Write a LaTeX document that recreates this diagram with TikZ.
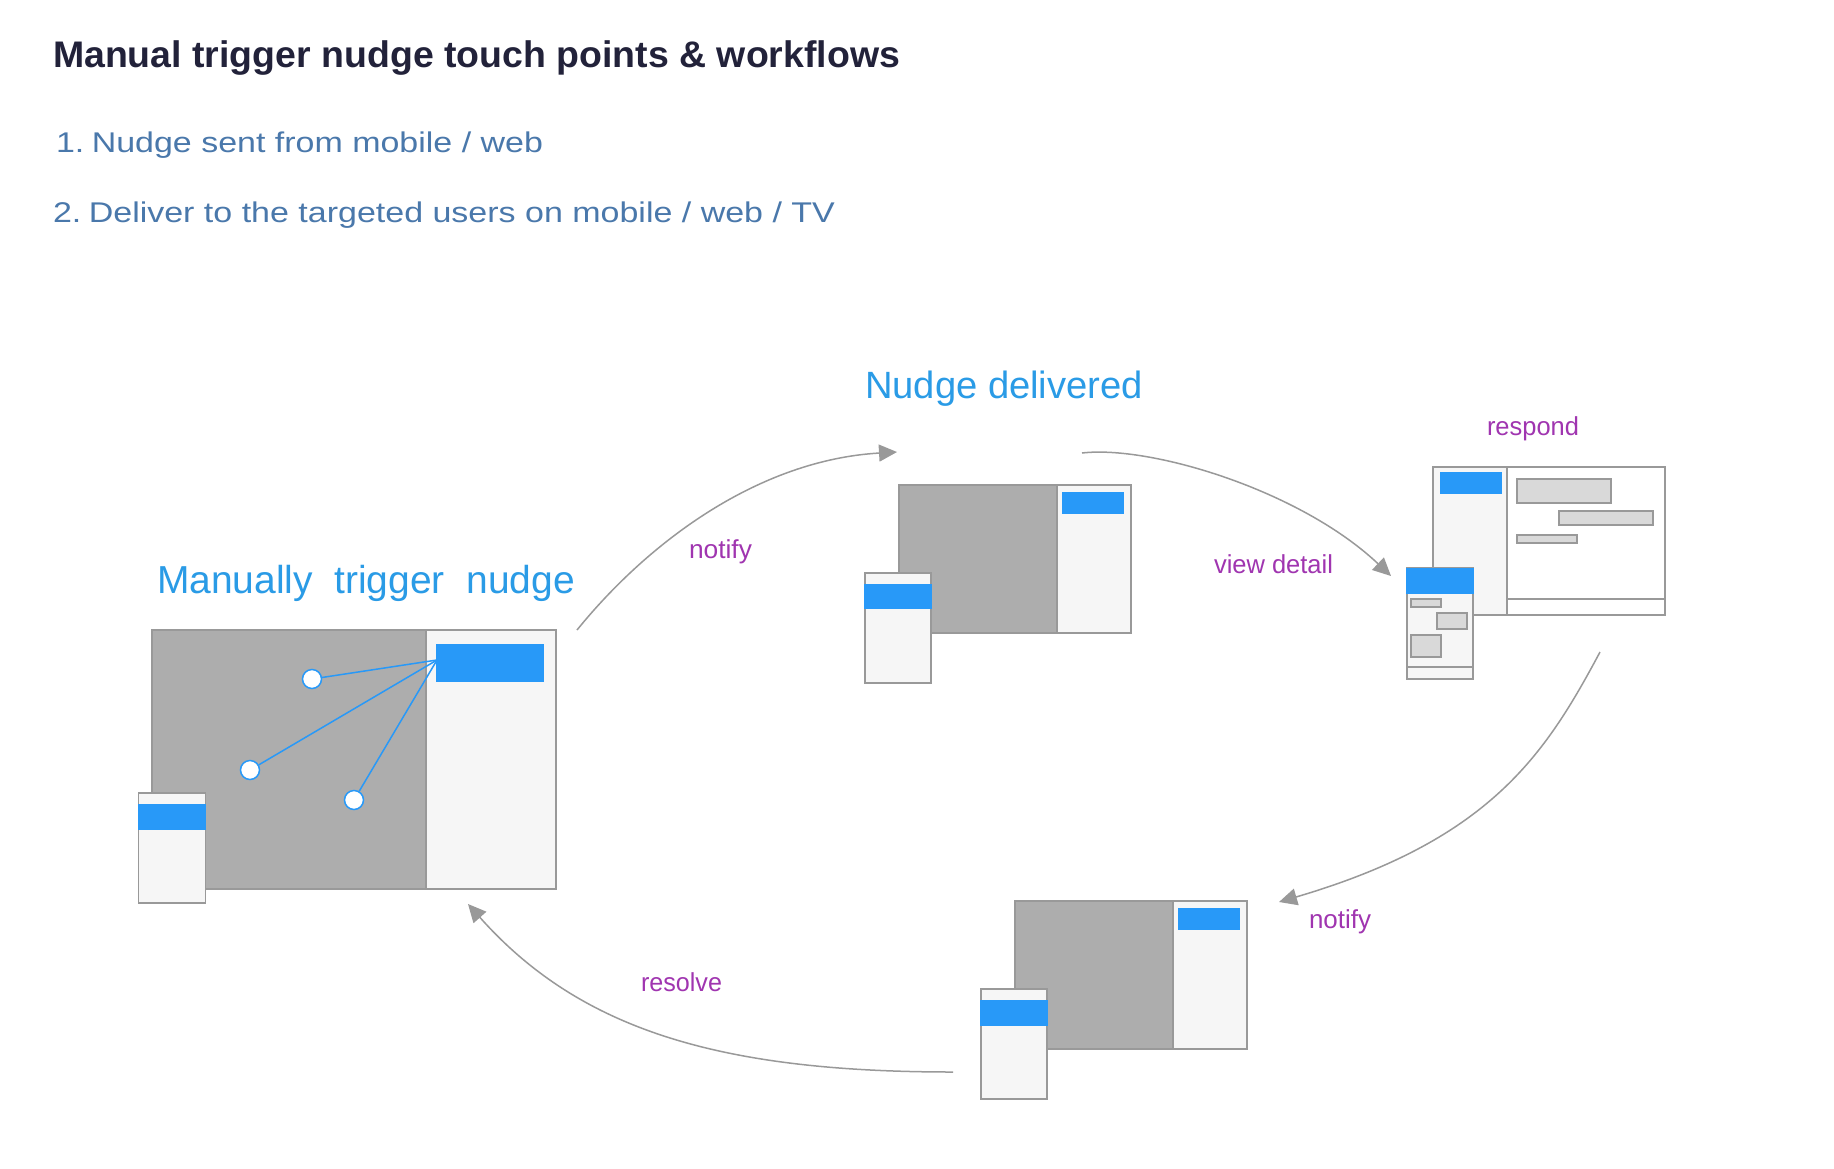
\documentclass[tikz,border=0pt]{standalone}
\usepackage{fontspec}
\setmainfont{Liberation Sans}
\usepackage{graphicx}
\usetikzlibrary{arrows.meta}
\definecolor{framegray}{HTML}{999999}
\definecolor{dimgray}{HTML}{ADADAD}
\definecolor{panegray}{HTML}{F6F6F6}
\definecolor{accentblue}{HTML}{2899F8}
\definecolor{headblue}{HTML}{2A9BE6}
\definecolor{lblpurple}{HTML}{A035B0}
\definecolor{inkdark}{HTML}{22223A}
\definecolor{steelblue}{HTML}{4A78AB}
\definecolor{bargray}{HTML}{D9D9D9}
\newcommand{\fitto}[2]{\resizebox{#1}{\height}{#2}}
\tikzset{
  txt/.style={anchor=base west, inner sep=0pt, outer sep=0pt},
  edgelbl/.style={txt, text=lblpurple, font=\fontsize{26}{30}\selectfont},
  headlbl/.style={txt, text=headblue, font=\fontsize{39}{44}\selectfont},
  boxline/.style={draw=framegray, line width=1.6pt},
  flow/.style={draw=framegray, line width=1.5pt, -{Triangle[length=18pt,width=17pt]}},
  pin/.style={circle, draw=accentblue, fill=white, line width=1.5pt, minimum size=19pt, inner sep=0pt},
  pinline/.style={draw=accentblue, line width=1.5pt}
}
\begin{document}
\begin{tikzpicture}[x=1pt,y=-1pt]
\useasboundingbox (0,0) rectangle (1834,1168);
\fill[white] (0,0) rectangle (1834,1168);

% header
\node[txt, text=inkdark, font=\bfseries\fontsize{37}{42}\selectfont] (title) at (53,67) {\fitto{847pt}{Manual trigger nudge touch points \& workflows}};
\node[txt, text=steelblue, font=\fontsize{28.5}{32}\selectfont] (item1) at (56,152) {\fitto{487pt}{1.\hspace{0.22em}Nudge sent from mobile / web}};
\node[txt, text=steelblue, font=\fontsize{28.5}{32}\selectfont] (item2) at (53,222) {\fitto{782pt}{2.\hspace{0.22em}Deliver to the targeted users on mobile / web / TV}};

% ---------- Screen 1: manually trigger ----------
\node[headlbl] (h1) at (157,593) {\fitto{418pt}{Manually\ \ trigger\ \ nudge}};
\fill[dimgray] (152,630) rectangle (426,889);
\fill[panegray] (426,630) rectangle (556,889);
\draw[boxline] (152,630) rectangle (556,889);
\draw[boxline] (426,630) -- (426,889);
\fill[accentblue] (436,644) rectangle (544,682);
\coordinate (src) at (437,660);
\node[pin] (p1) at (312,679) {};
\node[pin] (p2) at (250,770) {};
\node[pin] (p3) at (354,800) {};
\draw[pinline] (src) -- (p1);
\draw[pinline] (src) -- (p2);
\draw[pinline] (src) -- (p3);
\draw[boxline, fill=panegray] (138.5,793) rectangle (205.5,903);
\fill[accentblue] (137.7,804) rectangle (206.3,830);

% ---------- Screen 2: nudge delivered ----------
\node[headlbl, font=\fontsize{38}{44}\selectfont] (h2) at (865,398) {\fitto{278pt}{Nudge delivered}};
\fill[dimgray] (899,485) rectangle (1057,633);
\fill[panegray] (1057,485) rectangle (1131,633);
\draw[boxline] (899,485) rectangle (1131,633);
\draw[boxline] (1057,485) -- (1057,633);
\fill[accentblue] (1062,492) rectangle (1124,514);
\draw[boxline, fill=panegray] (865,573) rectangle (931,683);
\fill[accentblue] (864.2,584) rectangle (931.8,609);

% ---------- Screen 3: detail ----------
\node[edgelbl] (respond) at (1487,435) {\fitto{92pt}{respond}};
\fill[white] (1433,467) rectangle (1665,615);
\fill[panegray] (1433,467) rectangle (1507,615);
\draw[boxline] (1433,467) rectangle (1665,615);
\draw[boxline] (1507,467) -- (1507,615);
\draw[boxline] (1507,599) -- (1665,599);
\fill[accentblue] (1440,472) rectangle (1502,494);
\draw[boxline, fill=bargray] (1517,479) rectangle (1611,503);
\draw[boxline, fill=bargray] (1559,511) rectangle (1653,525);
\draw[boxline, fill=bargray] (1517,535) rectangle (1577,543);
\draw[boxline, fill=panegray] (1407,568) rectangle (1473,679);
\draw[boxline] (1407,667) -- (1473,667);
\fill[accentblue] (1406.2,567.5) rectangle (1473.8,594);
\draw[boxline, fill=bargray] (1411,599) rectangle (1441,607);
\draw[boxline, fill=bargray] (1437,613) rectangle (1467,629);
\draw[boxline, fill=bargray] (1411,635) rectangle (1441,657);

% ---------- Screen 4: notified ----------
\fill[dimgray] (1015,901) rectangle (1173,1049);
\fill[panegray] (1173,901) rectangle (1247,1049);
\draw[boxline] (1015,901) rectangle (1247,1049);
\draw[boxline] (1173,901) -- (1173,1049);
\fill[accentblue] (1178,908) rectangle (1240,930);
\draw[boxline, fill=panegray] (981,989) rectangle (1047,1099);
\fill[accentblue] (980.2,1000) rectangle (1047.8,1026);

% ---------- connectors ----------
\coordinate (a1s) at (577,630);
\coordinate (a1e) at (897,452);
\coordinate (a2s) at (1082,453);
\coordinate (a2e) at (1391,576);
\coordinate (a3s) at (1600,652);
\coordinate (a3e) at (1279,902);
\coordinate (a4s) at (953,1072);
\coordinate (a4e) at (468,904);
\draw[flow] (a1s) .. controls (650,540) and (760,460) .. (a1e);
\draw[flow] (a2s) .. controls (1150,445) and (1300,490) .. (a2e);
\draw[flow] (a3s) .. controls (1545,755) and (1490,840) .. (a3e);
\draw[flow] (a4s) .. controls (720,1072) and (580,1030) .. (a4e);

\node[edgelbl] (l1) at (689,558) {\fitto{63pt}{notify}};
\node[edgelbl] (l2) at (1214,573) {\fitto{119pt}{view detail}};
\node[edgelbl] (l3) at (1309,928) {\fitto{62pt}{notify}};
\node[edgelbl] (l4) at (641,991) {\fitto{81pt}{resolve}};
\end{tikzpicture}
\end{document}
